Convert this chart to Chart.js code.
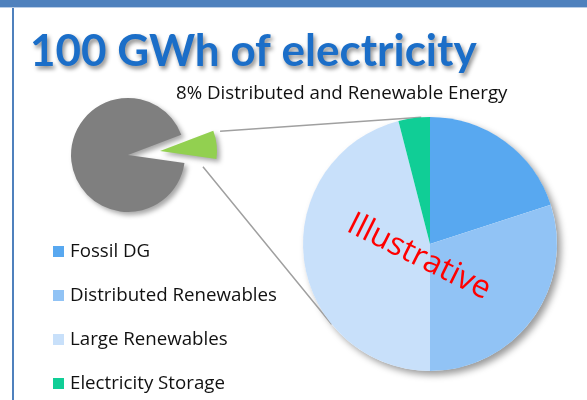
<!DOCTYPE html>
<html>
<head>
<meta charset="utf-8">
<script src="https://cdn.jsdelivr.net/npm/chart.js@4"></script>
<style>
  body { margin: 0; background: #fff; }
  #wrap { position: relative; width: 587px; height: 400px; overflow: hidden; }
  #topband { position: absolute; left: 0; top: 0; width: 587px; height: 7px; background: #4f81bd; border-bottom: 1px solid #b9cde6; }
  #leftline { position: absolute; left: 12px; top: 8px; width: 2px; height: 392px; background: #4f81bd; }
  #big { position: absolute; left: 0; top: 0; }
  #small, #wedge { position: absolute; left: 63px; top: 90px; }
</style>
</head>
<body>
<div id="wrap">
  <canvas id="big" width="587" height="400"></canvas>
  <canvas id="small" width="130" height="130"></canvas>
  <canvas id="wedge" width="130" height="130"></canvas>
  <div id="topband"></div>
  <div id="leftline"></div>
</div>
<script>
const titleText = '100 GWh of electricity'
const subtitleText = '8% Distributed and Renewable Energy'
const stampText = 'Illustrative'

// small pie: whole electricity vs distributed & renewable share
const totalLabels = ['Other', 'Distributed and Renewable']
const totalValues = [92, 8]
const totalColors = ['#7f7f7f', '#92d050']

// big pie: breakdown of the 8%
const mixLabels = ['Fossil DG', 'Distributed Renewables', 'Large Renewables', 'Electricity Storage']
const mixValues = [20, 30, 46, 4]
const mixColors = ['#58a8f0', '#91c3f5', '#c8e0fa', '#10ce96']

const pullOut = 32

const smallShadow = {
  id: 'smallShadow',
  beforeDatasetsDraw(chart) {
    const c = chart.ctx
    c.save()
    c.shadowColor = 'rgba(0,0,0,0.35)'
    c.shadowBlur = 5
    c.shadowOffsetX = 3
    c.shadowOffsetY = 3
  },
  afterDatasetsDraw(chart) {
    chart.ctx.restore()
  }
}

function smallPie(id, colors) {
  return new Chart(document.getElementById(id), {
    type: 'pie',
    data: {
      labels: totalLabels,
      datasets: [{
        data: totalValues,
        backgroundColor: colors,
        borderWidth: 0,
        hoverOffset: 0
      }]
    },
    options: {
      responsive: false,
      animation: false,
      rotation: 98,
      events: [],
      layout: { padding: 8 },
      plugins: { legend: { display: false }, tooltip: { enabled: false } }
    },
    plugins: [smallShadow]
  })
}

const smallChart = smallPie('small', [totalColors[0], 'rgba(0,0,0,0)'])
const wedgeChart = smallPie('wedge', ['rgba(0,0,0,0)', totalColors[1]])

// explode the green slice along its middle angle
const g = wedgeChart.getDatasetMeta(0).data[1]
const mid = (g.startAngle + g.endAngle) / 2
const wedgeBox = wedgeChart.canvas
wedgeBox.style.left = (63 + pullOut * Math.cos(mid)) + 'px'
wedgeBox.style.top = (90 + pullOut * Math.sin(mid)) + 'px'

// tangent point on circle (cx,cy,r) seen from p, side = +1 / -1
function tangent(px, py, cx, cy, r, side) {
  const dx = px - cx, dy = py - cy
  const d = Math.sqrt(dx * dx + dy * dy)
  const base = Math.atan2(dy, dx)
  const a = base + side * Math.acos(r / d)
  return [cx + r * Math.cos(a), cy + r * Math.sin(a)]
}

const decor = {
  id: 'decor',
  beforeDatasetsDraw(chart) {
    const c = chart.ctx
    const arc = chart.getDatasetMeta(0).data[0]
    c.save()
    c.shadowColor = 'rgba(0,0,0,0.4)'
    c.shadowBlur = 7
    c.shadowOffsetX = 4
    c.shadowOffsetY = 4
    c.fillStyle = '#ffffff'
    c.beginPath()
    c.arc(arc.x, arc.y, arc.outerRadius, 0, Math.PI * 2)
    c.fill()
    c.restore()

    // connector lines from the green wedge of the small pie
    const ax = 63 + pullOut * Math.cos(mid) + g.x
    const ay = 90 + pullOut * Math.sin(mid) + g.y
    const r = g.outerRadius
    const up = [ax + r * Math.cos(g.startAngle) + 7, ay + r * Math.sin(g.startAngle)]
    const lowEdge = [ax + 0.8 * r * Math.cos(g.endAngle), ay + 0.8 * r * Math.sin(g.endAngle)]
    const low = [lowEdge[0] - 2, lowEdge[1] + 9]
    const t1 = tangent(up[0], up[1], arc.x, arc.y, arc.outerRadius, 1)
    const t2 = tangent(low[0], low[1], arc.x, arc.y, arc.outerRadius, -1)
    c.save()
    c.strokeStyle = '#a0a0a0'
    c.lineWidth = 1.5
    c.beginPath()
    c.moveTo(up[0], up[1]); c.lineTo(t1[0], t1[1])
    c.moveTo(low[0], low[1]); c.lineTo(t2[0], t2[1])
    c.stroke()
    c.restore()
  },
  afterDraw(chart) {
    const c = chart.ctx
    const arc = chart.getDatasetMeta(0).data[0]
    c.save()
    // title
    c.font = 'bold 44px Lato'
    c.textBaseline = 'alphabetic'
    c.textAlign = 'left'
    c.shadowColor = 'rgba(0,0,0,0.45)'
    c.shadowBlur = 4
    c.shadowOffsetX = 2
    c.shadowOffsetY = 3
    c.fillStyle = '#1b6ec8'
    c.fillText(titleText, 30, 66)
    c.shadowColor = 'transparent'

    c.font = '18.7px "Open Sans"'
    c.fillStyle = '#111'
    c.fillText(subtitleText, 176, 99)

    // legend
    mixLabels.forEach((lab, i) => {
      const y = 257 + i * 44
      c.fillStyle = mixColors[i]
      c.fillRect(53, y - 11, 11, 11)
      c.fillStyle = '#111'
      c.fillText(lab, 70, y)
    })

    // stamp
    c.translate(arc.x - 11, arc.y + 13)
    c.rotate(26.5 * Math.PI / 180)
    c.font = '32px "Open Sans"'
    c.textAlign = 'center'
    c.textBaseline = 'middle'
    c.fillStyle = '#ff0000'
    c.fillText(stampText, 0, 0)
    c.restore()
  }
}

const bigChart = new Chart(document.getElementById('big'), {
  type: 'pie',
  data: {
    labels: mixLabels,
    datasets: [{
      data: mixValues,
      backgroundColor: mixColors,
      borderWidth: 0,
      hoverOffset: 0
    }]
  },
  options: {
    responsive: false,
    animation: false,
    events: [],
    layout: { padding: { left: 303, right: 30, top: 117, bottom: 29 } },
    plugins: { legend: { display: false }, tooltip: { enabled: false } }
  },
  plugins: [decor]
});
</script>
</body>
</html>
